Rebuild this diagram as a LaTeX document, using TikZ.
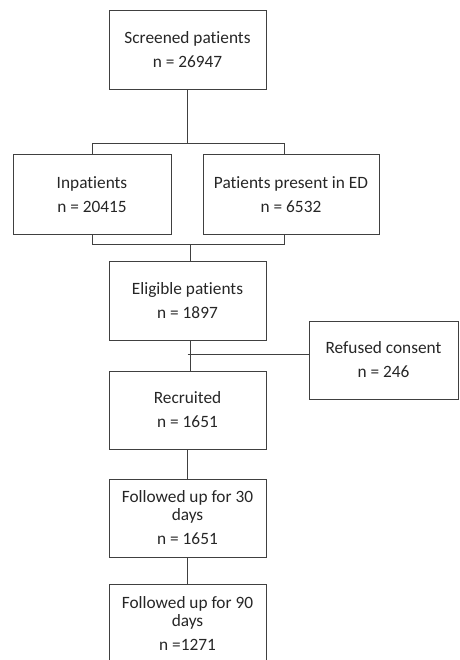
\documentclass[tikz,border=0pt]{standalone}
\usepackage{fontspec}
\setmainfont{Carlito}[Ligatures=NoCommon]
\begin{document}
\begin{tikzpicture}[x=1pt, y=-1pt,
    box/.style={draw=black!75, line width=1pt, inner sep=0pt, align=center,
      minimum width=157pt, minimum height=79pt, text=black!85,
      font=\fontsize{17.3}{18}\selectfont},
    link/.style={draw=black!75, line width=1pt}]
  \useasboundingbox (0,0) rectangle (459,660);
  % boxes
  \node[box] (screened) at (187.5,50) {Screened patients\\[6pt]n = 26947};
  \node[box, minimum width=158pt] (inpatients) at (92,194.5) {Inpatients\\[6pt]n = 20415};
  \node[box, minimum width=176pt] (presented) at (291,194.5) {Patients present in ED\\[6pt]n = 6532};
  \node[box] (eligible) at (187.5,300.5) {Eligible patients\\[6pt]n = 1897};
  \node[box, minimum width=149pt, minimum height=78pt] (refused) at (383.5,360) {Refused consent\\[6pt]n = 246};
  \node[box, minimum height=78pt] (recruited) at (187.5,410) {Recruited\\[6pt]n = 1651};
  \node[box, minimum height=78pt] (follow30) at (187.5,518) {Followed up for 30\\days\\[6pt]n = 1651};
  \node[box, minimum height=78pt, anchor=north] (follow90) at (187.5,584) {Followed up for 90\\days\\[6pt]n =1271};
  % bracket points
  \coordinate (splitl) at (92.5,143.5);
  \coordinate (splitr) at (284.5,143.5);
  \coordinate (joinl) at (92.5,244.5);
  \coordinate (joinr) at (284.5,244.5);
  \coordinate (joinm) at (190.5,244.5);
  \coordinate (refusedpt) at (187.5,354.5);
  % connectors
  \draw[link] (screened.south) -- (screened.south |- splitl);
  \draw[link] (inpatients.north -| splitl) -- (splitl) -- (splitr) -- (presented.north -| splitr);
  \draw[link] (inpatients.south -| joinl) -- (joinl) -- (joinr) -- (presented.south -| joinr);
  \draw[link] (joinm) -- (joinm |- eligible.north);
  \draw[link] (joinm |- eligible.south) -- (joinm |- recruited.north);
  \draw[link] (refusedpt) -- (refused.west |- refusedpt);
  \draw[link] (recruited.south) -- (follow30.north);
  \draw[link] (follow30.south) -- (follow90.north);
\end{tikzpicture}
\end{document}
